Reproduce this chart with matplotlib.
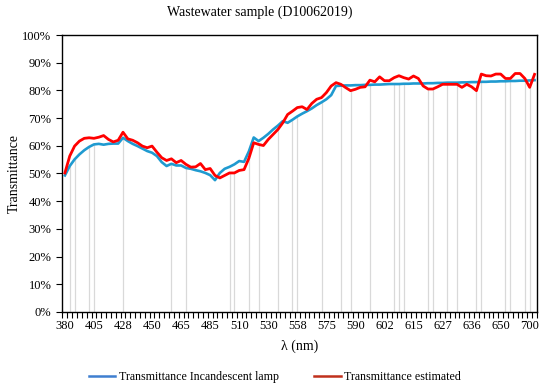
import matplotlib
matplotlib.use("Agg")
import matplotlib.pyplot as plt
from matplotlib.lines import Line2D
from matplotlib.ticker import FuncFormatter, MultipleLocator

plt.rcParams["font.family"] = ["Liberation Serif", "DejaVu Serif"]

# category labels shown on the x axis (one every 6 samples)
tick_labels = ["380", "405", "428", "450", "465", "485", "510", "530", "558",
               "575", "590", "602", "615", "627", "636", "650", "700"]

# transmittance in %, 98 samples
lamp = [49.3, 52.7, 55.1, 56.9, 58.4, 59.6, 60.5, 60.7, 60.4, 60.7,
        60.8, 60.8, 62.9, 61.7, 60.7, 59.9, 59.0, 58.1, 57.5, 56.3,
        54.1, 52.7, 53.5, 52.9, 52.9, 52.0, 51.7, 51.2, 50.8, 50.2,
        49.4, 47.6, 50.2, 51.7, 52.4, 53.3, 54.5, 54.2, 58.0, 63.0,
        61.7, 62.9, 64.3, 65.9, 67.3, 68.9, 68.3, 69.4, 70.6, 71.6,
        72.5, 73.5, 74.7, 75.7, 76.8, 78.3, 81.6, 81.7, 81.8, 81.8,
        81.9, 81.9, 82.0, 82.0, 82.1, 82.1, 82.2, 82.3, 82.3, 82.3,
        82.4, 82.4, 82.5, 82.5, 82.5, 82.6, 82.6, 82.7, 82.7, 82.8,
        82.8, 82.8, 82.9, 82.9, 83.0, 83.0, 83.1, 83.1, 83.2, 83.2,
        83.3, 83.3, 83.4, 83.4, 83.5, 83.5, 83.6, 83.7]

estimated = [50.2, 56.3, 59.9, 61.7, 62.7, 62.9, 62.7, 63.1, 63.7, 62.3,
             61.4, 62.0, 64.9, 62.5, 62.0, 61.1, 59.9, 59.3, 59.9, 57.7,
             55.7, 54.7, 55.3, 53.9, 54.7, 53.3, 52.3, 52.4, 53.6, 51.4,
             51.8, 49.3, 48.4, 49.3, 50.2, 50.2, 51.1, 51.4, 55.5, 61.1,
             60.5, 60.1, 62.3, 64.1, 65.9, 68.3, 71.3, 72.5, 73.8, 74.1,
             73.1, 75.3, 76.8, 77.4, 79.2, 81.6, 82.8, 82.2, 81.0, 79.9,
             80.4, 81.1, 81.3, 83.7, 83.1, 84.9, 83.5, 83.5, 84.6, 85.3,
             84.6, 84.1, 85.2, 84.3, 81.6, 80.5, 80.5, 81.3, 82.2, 82.2,
             82.2, 82.2, 81.1, 82.2, 81.3, 79.9, 85.9, 85.3, 85.2, 85.9,
             85.9, 84.3, 84.3, 86.1, 86.1, 84.3, 81.1, 85.8]

# samples that carry a faint grey drop line
drop_idx = [1, 2, 5, 6, 12, 22, 25, 34, 35, 38, 40, 44, 47, 48, 53, 57, 59,
            63, 68, 69, 70, 75, 76, 79, 81, 85, 86, 91, 92, 95, 96]

blue = "#1f9ad0"
red = "#ff0000"

fig = plt.figure(figsize=(5.5, 3.92), dpi=100)
ax = fig.add_axes([0.1136, 0.2041, 0.8627, 0.7066])

x = list(range(len(lamp)))
drop_top = [min(lamp[i], estimated[i]) for i in drop_idx]
ax.vlines(drop_idx, 0, drop_top, color="#d9d9d9", lw=0.9, zorder=1)

ax.plot(x, lamp, color=blue, lw=1.9, zorder=3)
ax.plot(x, estimated, color=red, lw=2.0, zorder=4)

ax.set_xlim(-0.5, len(lamp) - 0.5)
ax.set_ylim(0, 100)
ax.set_xticks(range(0, len(lamp), 6))
ax.set_xticklabels(tick_labels)
ax.xaxis.set_minor_locator(MultipleLocator(1, offset=0.5))
ax.tick_params(axis="x", which="major", length=0, pad=6, labelsize=9)
ax.tick_params(axis="x", which="minor", length=4, width=0.8, direction="out")
ax.yaxis.set_major_locator(MultipleLocator(10))
ax.yaxis.set_major_formatter(FuncFormatter(lambda v, p: f"{v:.0f}%"))
ax.tick_params(axis="y", length=4, width=0.8, labelsize=9, pad=4)

for s in ax.spines.values():
    s.set_linewidth(1.0)
    s.set_color("black")

ax.set_ylabel("Transmittance", fontsize=10)
ax.yaxis.set_label_coords(-0.088, 0.5)
ax.set_xlabel("λ (nm)", fontsize=10)
ax.xaxis.set_label_coords(0.5, -0.1)
fig.text(0.473, 0.968, "Wastewater sample (D10062019)", ha="center", va="center",
         fontsize=10)

handles = [Line2D([], [], color="#3f7fd0", lw=1.8),
           Line2D([], [], color="#c0301c", lw=1.8)]
fig.legend(handles, ["Transmittance Incandescent lamp", "Transmittance estimated"],
           loc="center", bbox_to_anchor=(0.5, 0.038), ncol=2, frameon=False,
           fontsize=8.6, handlelength=2.2, handletextpad=0.3, columnspacing=3.0)

fig.savefig("out.png", dpi=100)
